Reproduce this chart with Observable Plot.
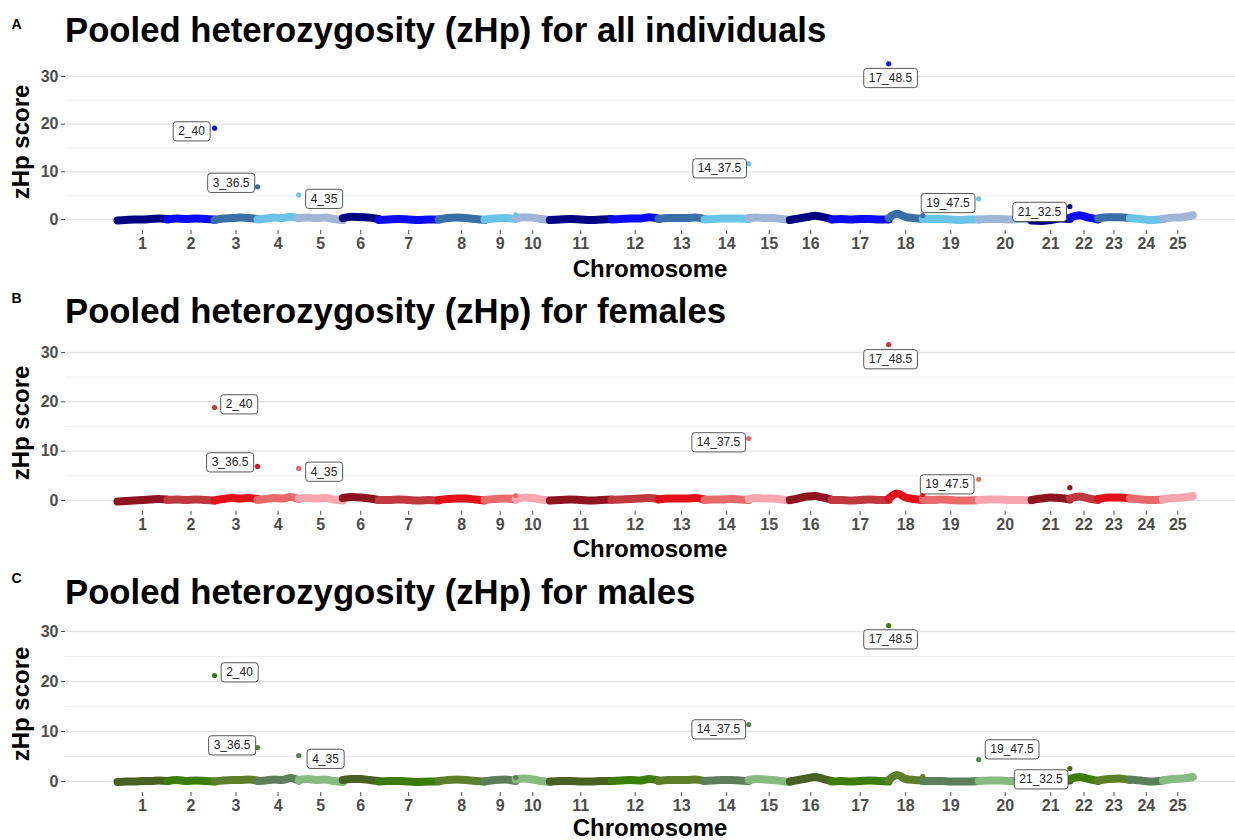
<!DOCTYPE html>
<html><head><meta charset="utf-8">
<script src="https://cdn.jsdelivr.net/npm/d3@7"></script>
<script src="https://cdn.jsdelivr.net/npm/@observablehq/plot@0.6"></script>
<style>
body{margin:0;background:#fff;}
#wrap{position:relative;width:1235px;height:840px;overflow:hidden;font-family:"Liberation Sans",Arial,Helvetica,sans-serif;}
.panel{position:absolute;left:0;}
#overlay{position:absolute;left:0;top:0;pointer-events:none;}
</style></head><body>
<div id="wrap"></div>
<script>
// ---------- data ----------
const chromosomes = ["1","2","3","4","5","6","7","8","9","10","11","12","13","14","15","16","17","18","19","20","21","22","23","24","25"];
const chromLengthMb = [42.5,40,36.5,35,37.5,30.5,51,39,26.5,29,52.5,40,39,37.5,35,35.5,48.5,29,47.5,45,32.5,24,27,28,25.5];

const blues  = ["#000080","#0a0aff","#3a6fa5","#6cc3e8","#a0b4d8"];
const reds   = ["#8e1520","#c0393f","#e3101a","#e96a6b","#f7a6b0"];
const greens = ["#4a5f22","#3c7d08","#5e7f2a","#5c7e5c","#86ba80"];

// zHp band profile (values read along each chromosome)
const bandAll = [
 [-0.2,-0.1,0.0,0.0,0.1,0.2,0.1],[0.0,0.2,0.1,0.2,0.1,0.0],[-0.1,0.2,0.3,0.4,0.3,0.1],[0.0,0.2,0.4,0.3,0.6,0.3],
 [0.3,0.4,0.3,0.4,0.1,-0.1],[0.3,0.6,0.5,0.4,0.1],[-0.1,0.0,0.1,0.0,-0.1,0.0,0.0],[0.0,0.3,0.4,0.3,0.1,-0.1],
 [0.0,0.2,0.3,0.1],[0.3,0.5,0.4,0.1,-0.1],[-0.1,0.0,0.1,0.0,-0.1,0.0,0.1],[0.0,0.1,0.2,0.2,0.5,0.2],
 [0.1,0.3,0.3,0.3,0.4,0.1],[0.0,0.1,0.2,0.2,0.2,0.1],[0.3,0.4,0.3,0.3,0.1,-0.1],[-0.1,0.2,0.5,0.8,0.5,0.1],
 [0.0,0.1,0.0,0.1,0.1,0.0,0.0],[0.3,1.2,0.5,0.3,0.1],[0.1,0.1,0.1,0.0,-0.1,0.0,0.0],[0.0,0.1,0.1,0.0,0.1,-0.1],
 [-0.2,-0.3,-0.1,0.2,0.1],[0.4,0.9,0.4,0.0],[0.3,0.5,0.5,0.3],[0.3,0.1,-0.1,0.1],[0.1,0.4,0.5,0.9]
];
const bandFemales = [
 [-0.2,-0.1,0.0,0.1,0.2,0.3,0.2],[0.1,0.2,0.1,0.2,0.1,0.0],[0.0,0.3,0.5,0.4,0.5,0.3],[0.1,0.3,0.5,0.4,0.7,0.3],
 [0.4,0.5,0.4,0.5,0.2,0.0],[0.5,0.7,0.6,0.4,0.1],[0.1,0.1,0.2,0.1,0.0,0.1,0.0],[0.1,0.3,0.4,0.4,0.2,0.0],
 [0.1,0.3,0.4,0.2],[0.3,0.6,0.5,0.2,0.0],[0.0,0.1,0.2,0.1,0.0,0.1,0.2],[0.1,0.2,0.3,0.4,0.5,0.3],
 [0.2,0.4,0.4,0.4,0.5,0.2],[0.1,0.2,0.2,0.3,0.2,0.1],[0.3,0.5,0.4,0.4,0.2,0.0],[0.1,0.4,0.8,0.9,0.6,0.2],
 [0.1,0.1,0.0,0.1,0.2,0.1,0.1],[0.4,1.4,0.6,0.3,0.1],[0.2,0.1,0.2,0.1,0.0,0.0,0.1],[0.1,0.2,0.2,0.1,0.1,0.0],
 [0.1,0.4,0.6,0.5,0.2],[0.4,0.8,0.4,0.1],[0.3,0.6,0.6,0.4],[0.4,0.2,0.1,0.2],[0.2,0.5,0.6,0.9]
];
const bandMales = [
 [-0.1,0.0,0.0,0.1,0.1,0.2,0.1],[0.1,0.3,0.1,0.2,0.1,0.0],[0.0,0.2,0.3,0.3,0.4,0.2],[0.1,0.2,0.4,0.3,0.7,0.2],
 [0.3,0.5,0.3,0.4,0.1,-0.1],[0.3,0.5,0.5,0.3,0.1],[0.0,0.1,0.1,0.0,-0.1,0.0,0.0],[0.1,0.3,0.4,0.3,0.1,0.0],
 [0.0,0.3,0.4,0.1],[0.4,0.6,0.4,0.1,-0.1],[0.0,0.1,0.1,0.0,0.0,0.1,0.1],[0.1,0.2,0.3,0.2,0.5,0.2],
 [0.1,0.3,0.3,0.3,0.4,0.1],[0.1,0.2,0.3,0.3,0.2,0.1],[0.3,0.5,0.4,0.3,0.1,-0.1],[0.0,0.3,0.6,0.9,0.5,0.1],
 [0.0,0.1,0.0,0.1,0.2,0.1,0.0],[0.3,1.3,0.5,0.3,0.2],[0.1,0.1,0.1,0.0,0.0,0.0,0.1],[0.1,0.2,0.2,0.1,0.1,0.0],
 [0.0,0.2,0.3,0.3,0.2],[0.5,0.9,0.5,0.1],[0.2,0.5,0.6,0.3],[0.4,0.2,0.0,0.2],[0.2,0.5,0.6,0.9]
];

// outlying windows: chromosome, position (Mb), zHp
const outlierChrom = [2,3,4,9,14,17,18,19,21];
const outlierPos   = [40,36.5,35,26.5,37.5,48.5,29,47.5,32.5];
const outlierAll     = [19.15,6.86,5.18,1.0,11.68,32.66,0.84,4.34,2.73];
const outlierFemales = [18.85,6.9,6.5,1.0,12.57,31.6,1.2,4.3,2.6];
const outlierMales   = [21.2,6.8,5.2,0.8,11.4,31.2,1.0,4.4,2.6];

// repelled label anchors (cumulative Mb, zHp)
const labelsAll      = ["2_40","3_36.5","4_35","14_37.5","17_48.5","19_47.5","21_32.5"];
const labelAllX      = [62.9,96.5,175.5,511.7,657,705.9,783.7];
const labelAllY      = [18.46,7.66,4.3,10.7,29.64,3.42,1.57];
const labelsFemales  = ["2_40","3_36.5","4_35","14_37.5","17_48.5","19_47.5"];
const labelFemalesX  = [103.3,95.6,175.5,510.9,657,705.1];
const labelFemalesY  = [19.46,7.7,5.8,11.76,28.6,3.24];
const labelsMales    = ["2_40","3_36.5","4_35","14_37.5","17_48.5","19_47.5","21_32.5"];
const labelMalesX    = [103.7,97.3,176.8,510.9,657,760.3,785];
const labelMalesY    = [21.8,7.2,4.5,10.4,28.4,6.4,0.4];

const yTicks = [0,10,20,30];
const yMinor = [5,15,25];

// ---------- build ----------
const chromStart = [];
{ let acc = 0; chromLengthMb.forEach(l => { chromStart.push(acc); acc += l; }); }
const centers = chromLengthMb.map((l,i) => chromStart[i] + l/2);

const panels = [
 {letter:"A", title:"Pooled heterozygosity (zHp) for all individuals", palette:blues, band:bandAll, out:outlierAll,
  lt:labelsAll, lx:labelAllX, ly:labelAllY, top:50, yDomain:[-2.3,34.5], mt:4.5, mb:50,
  letterY:29, titleY:41.7, xTitleY:276.5, yTitleC:142},
 {letter:"B", title:"Pooled heterozygosity (zHp) for females", palette:reds, band:bandFemales, out:outlierFemales,
  lt:labelsFemales, lx:labelFemalesX, ly:labelFemalesY, top:330, yDomain:[-2.2,33.3], mt:5.7, mb:49.15,
  letterY:303, titleY:322.7, xTitleY:556.5, yTitleC:423},
 {letter:"C", title:"Pooled heterozygosity (zHp) for males", palette:greens, band:bandMales, out:outlierMales,
  lt:labelsMales, lx:labelMalesX, ly:labelMalesY, top:610, yDomain:[-2.2,32.9], mt:6.5, mb:48,
  letterY:583, titleY:603.7, xTitleY:835.5, yTitleC:704}
];

const wrap = document.getElementById("wrap");
const FONT = "Liberation Sans, Arial, Helvetica, sans-serif";

panels.forEach(p => {
  const bandRows = [];
  p.band.forEach((vals, k) => {
    const n = vals.length;
    vals.forEach((v, i) => bandRows.push({chrom: chromosomes[k], x: chromStart[k] + chromLengthMb[k]*i/(n-1), y: v, color: p.palette[k % 5]}));
  });
  const outRows = outlierChrom.map((c, i) => ({x: chromStart[c-1] + outlierPos[i], y: p.out[i], color: p.palette[(c-1) % 5]}));
  const labelRows = p.lt.map((t, i) => ({text: t, x: p.lx[i], y: p.ly[i]}));

  const chart = Plot.plot({
    width: 1235, height: 230,
    marginLeft: 65, marginRight: 0, marginTop: p.mt, marginBottom: p.mb,
    style: {fontFamily: FONT, background: "transparent", overflow: "visible"},
    x: {domain: [-44.2, 950.3]},
    y: {domain: p.yDomain},
    color: {type: "identity"},
    marks: [
      Plot.ruleY(yMinor, {stroke: "#eeeeee", strokeWidth: 1}),
      Plot.ruleY(yTicks, {stroke: "#e2e2e2", strokeWidth: 1.4}),
      Plot.line(bandRows, {x: "x", y: "y", z: "chrom", stroke: "color", strokeWidth: 8, strokeLinecap: "round", strokeLinejoin: "round", curve: "monotone-x"}),
      Plot.dot(outRows, {x: "x", y: "y", r: 2.6, fill: "color"}),
      Plot.text(labelRows, {x: "x", y: "y", text: "text", fontSize: 12, fill: "#222"}),
      Plot.axisX({ticks: centers, tickFormat: d => chromosomes[centers.indexOf(d)], tickSize: 4, tickPadding: 3, fontSize: 16, fontWeight: "bold", color: "#4d4d4d", label: null}),
      Plot.axisY({ticks: yTicks, tickSize: 4, tickPadding: 3, fontSize: 16, fontWeight: "bold", color: "#4d4d4d", label: null})
    ]
  });
  const div = document.createElement("div");
  div.className = "panel";
  div.style.top = p.top + "px";
  div.appendChild(chart);
  wrap.appendChild(div);

  // rounded label boxes behind the label texts
  chart.querySelectorAll('g[aria-label="text"] text').forEach(t => {
    const b = t.getBBox();
    const r = document.createElementNS("http://www.w3.org/2000/svg", "rect");
    r.setAttribute("x", b.x - 5);
    r.setAttribute("y", b.y - 2.6);
    r.setAttribute("width", b.width + 10);
    r.setAttribute("height", b.height + 5.2);
    r.setAttribute("rx", 3);
    r.setAttribute("fill", "#fff");
    r.setAttribute("stroke", "#444");
    r.setAttribute("stroke-width", 0.9);
    const tr = t.getAttribute("transform");
    if (tr) r.setAttribute("transform", tr);
    t.parentNode.insertBefore(r, t);
  });
});

// overlay texts: panel letters, titles, axis titles
const ov = d3.select(wrap).append("svg").attr("id", "overlay").attr("width", 1235).attr("height", 840)
  .style("font-family", FONT);
panels.forEach(p => {
  ov.append("text").attr("x", 11.5).attr("y", p.letterY).attr("font-size", 14).attr("font-weight", "bold").text(p.letter);
  ov.append("text").attr("x", 65).attr("y", p.titleY).attr("font-size", 34.7).attr("font-weight", "bold").text(p.title);
  ov.append("text").attr("x", 650).attr("y", p.xTitleY).attr("text-anchor", "middle").attr("font-size", 24).attr("font-weight", "bold").text("Chromosome");
  ov.append("text").attr("transform", `translate(29,${p.yTitleC}) rotate(-90)`).attr("text-anchor", "middle").attr("font-size", 24).attr("font-weight", "bold").text("zHp score");
});
</script>
</body></html>
